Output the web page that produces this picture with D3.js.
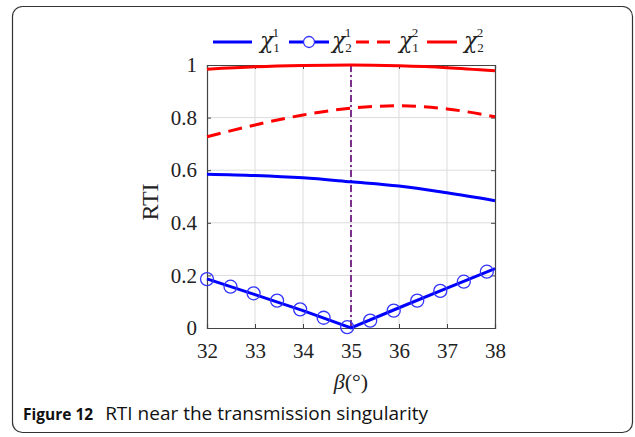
<!DOCTYPE html>
<html>
<head>
<meta charset="utf-8">
<script src="https://cdn.jsdelivr.net/npm/d3@7"></script>
<style>
  body { margin: 0; background: #fff; }
  svg { display: block; }
</style>
</head>
<body>
<script>
// chart data
var xTicks = [32, 33, 34, 35, 36, 37, 38];
var yTicks = [0, 0.2, 0.4, 0.6, 0.8, 1];
var yTickLabels = ["0", "0.2", "0.4", "0.6", "0.8", "1"];

var beta = [32, 33, 34, 35, 36, 37, 38];
var chi11 = [0.585, 0.580, 0.571, 0.556, 0.540, 0.514, 0.484];
var chi12 = [0.727, 0.772, 0.810, 0.836, 0.845, 0.833, 0.803];
var chi22 = [0.984, 0.993, 0.998, 1.0, 0.997, 0.990, 0.978];

// chi_2^1 has a kink at 35
var chi21X = [32, 33, 34, 35, 36, 37, 38];
var chi21Y = [0.187, 0.127, 0.066, 0, 0.077, 0.152, 0.226];
var chi21MarkX = [32, 32.49, 32.97, 33.46, 33.94, 34.43, 34.92, 35.40, 35.89, 36.38, 36.86, 37.35, 37.83];
var chi21MarkY = [0.186, 0.157, 0.132, 0.104, 0.071, 0.039, 0.003, 0.028, 0.066, 0.104, 0.141, 0.176, 0.214];

var singularity = 35;

//svg setup
var svgWidth = 635;
var svgHeight = 437;
var margin = {top: 65, left: 207};
var width = 288;
var height = 263;
var serif = "'Liberation Serif', 'Times New Roman', serif";

var svg = d3.select("body").append("svg")
  .attr("width", svgWidth)
  .attr("height", svgHeight);

// card frame
svg.append("rect")
  .attr("x", 12.5).attr("y", 6.5)
  .attr("width", 620).attr("height", 426)
  .attr("rx", 10)
  .attr("fill", "none")
  .attr("stroke", "#333")
  .attr("stroke-width", 1.2);

var chartGroup = svg.append("g")
  .attr("transform", `translate(${margin.left}, ${margin.top})`);

var x = d3.scaleLinear().domain([32, 38]).range([0, width]);
var y = d3.scaleLinear().domain([0, 1]).range([height, 0]);

// grid
chartGroup.append("g")
  .selectAll("line")
  .data(xTicks.slice(1, -1))
  .enter().append("line")
  .attr("x1", d => x(d)).attr("x2", d => x(d))
  .attr("y1", 0).attr("y2", height)
  .attr("stroke", "#dcdcdc").attr("stroke-width", 1);
chartGroup.append("g")
  .selectAll("line")
  .data(yTicks.slice(1, -1))
  .enter().append("line")
  .attr("x1", 0).attr("x2", width)
  .attr("y1", d => y(d)).attr("y2", d => y(d))
  .attr("stroke", "#dcdcdc").attr("stroke-width", 1);

// axes
var bottomAxis = d3.axisBottom(x).tickValues(xTicks).tickSize(-4).tickPadding(15).tickFormat(d3.format("d"));
var leftAxis = d3.axisLeft(y).tickValues(yTicks).tickSize(-4).tickPadding(10)
  .tickFormat((d, i) => yTickLabels[i]);
var topAxis = d3.axisTop(x).tickValues(xTicks).tickSize(-4).tickFormat("");
var rightAxis = d3.axisRight(y).tickValues(yTicks).tickSize(-4).tickFormat("");

function styleAxis(g) {
  g.select(".domain").attr("stroke", "#444").attr("stroke-width", 1.2);
  g.selectAll(".tick line").attr("stroke", "#444");
  g.selectAll("text")
    .attr("fill", "#222")
    .style("font-family", serif)
    .style("font-size", "21px");
}

chartGroup.append("g").attr("transform", `translate(0, ${height})`).call(bottomAxis).call(styleAxis);
chartGroup.append("g").call(leftAxis).call(styleAxis);
chartGroup.append("g").call(topAxis).call(styleAxis);
chartGroup.append("g").attr("transform", `translate(${width}, 0)`).call(rightAxis).call(styleAxis);

// singularity line
chartGroup.append("line")
  .attr("x1", x(singularity)).attr("x2", x(singularity))
  .attr("y1", 0).attr("y2", height)
  .attr("stroke", "#7e2f8e").attr("stroke-width", 2)
  .attr("stroke-dasharray", "7,3,2,3");

var line = d3.line()
  .x(d => x(d[0]))
  .y(d => y(d[1]))
  .curve(d3.curveMonotoneX);

function pairs(xs, ys) {
  return xs.map((v, i) => [v, ys[i]]);
}

chartGroup.append("path")
  .datum(pairs(beta, chi22))
  .attr("d", line)
  .attr("fill", "none").attr("stroke", "#ff0000").attr("stroke-width", 3);

chartGroup.append("path")
  .datum(pairs(beta, chi12))
  .attr("d", line)
  .attr("fill", "none").attr("stroke", "#ff0000").attr("stroke-width", 3)
  .attr("stroke-dasharray", "14,8");

chartGroup.append("path")
  .datum(pairs(beta, chi11))
  .attr("d", line)
  .attr("fill", "none").attr("stroke", "#0000ff").attr("stroke-width", 3);

chartGroup.append("path")
  .datum(pairs(chi21X, chi21Y))
  .attr("d", d3.line().x(d => x(d[0])).y(d => y(d[1])))
  .attr("fill", "none").attr("stroke", "#0000ff").attr("stroke-width", 3);

chartGroup.selectAll(".marker")
  .data(pairs(chi21MarkX, chi21MarkY))
  .enter().append("circle")
  .attr("class", "marker")
  .attr("cx", d => x(d[0]))
  .attr("cy", d => y(d[1]))
  .attr("r", 6.5)
  .attr("fill", "none")
  .attr("stroke", "#3333ff")
  .attr("stroke-width", 1.3);

// axis labels
svg.append("text")
  .attr("transform", "translate(158, 202) rotate(-90)")
  .attr("text-anchor", "middle")
  .style("font-family", serif)
  .style("font-size", "24px")
  .attr("fill", "#222")
  .text("RTI");

var xl = svg.append("text")
  .attr("x", 351).attr("y", 389)
  .attr("text-anchor", "middle")
  .style("font-family", serif)
  .style("font-size", "22px")
  .attr("fill", "#222");
xl.append("tspan").style("font-style", "italic").text("β");
xl.append("tspan").text("(°)");

// legend
var legendItems = [
  {x0: 213, x1: 252, tx: 260, color: "#0000ff", dash: null, marker: false, sub: "1", sup: "1"},
  {x0: 289, x1: 329, tx: 332, color: "#0000ff", dash: null, marker: true, sub: "2", sup: "1"},
  {x0: 356, x1: 398, tx: 399, color: "#ff0000", dash: "13,8", marker: false, sub: "1", sup: "2"},
  {x0: 427, x1: 457, tx: 464, color: "#ff0000", dash: null, marker: false, sub: "2", sup: "2"}
];
var legendY = 42;
var legend = svg.append("g");
legendItems.forEach(function(it) {
  legend.append("line")
    .attr("x1", it.x0).attr("x2", it.x1)
    .attr("y1", legendY).attr("y2", legendY)
    .attr("stroke", it.color).attr("stroke-width", 3)
    .attr("stroke-dasharray", it.dash);
  if (it.marker) {
    legend.append("circle")
      .attr("cx", (it.x0 + it.x1) / 2).attr("cy", legendY)
      .attr("r", 5.5).attr("fill", "#fff")
      .attr("stroke", "#3333ff").attr("stroke-width", 1.3);
  }
  var t = legend.append("text")
    .attr("x", it.tx).attr("y", legendY + 6)
    .attr("fill", "#222");
  t.append("tspan")
    .style("font-family", "'DejaVu Serif', serif")
    .style("font-style", "italic").style("font-size", "22px").text("χ");
  t.append("tspan").attr("dy", 4)
    .style("font-family", serif).style("font-size", "13px").text(it.sub);
  t.append("tspan").attr("dx", -7).attr("dy", -15)
    .style("font-family", serif).style("font-size", "13px").text(it.sup);
});

// caption
var cap = svg.append("text")
  .attr("x", 23).attr("y", 420)
  .style("font-family", "'Open Sans', 'Noto Sans', sans-serif")
  .attr("fill", "#111");
cap.append("tspan").style("font-weight", "bold").style("font-size", "15.5px").text("Figure 12");
cap.append("tspan").attr("dx", 12).style("font-size", "19px").text("RTI near the transmission singularity");
</script>
</body>
</html>
